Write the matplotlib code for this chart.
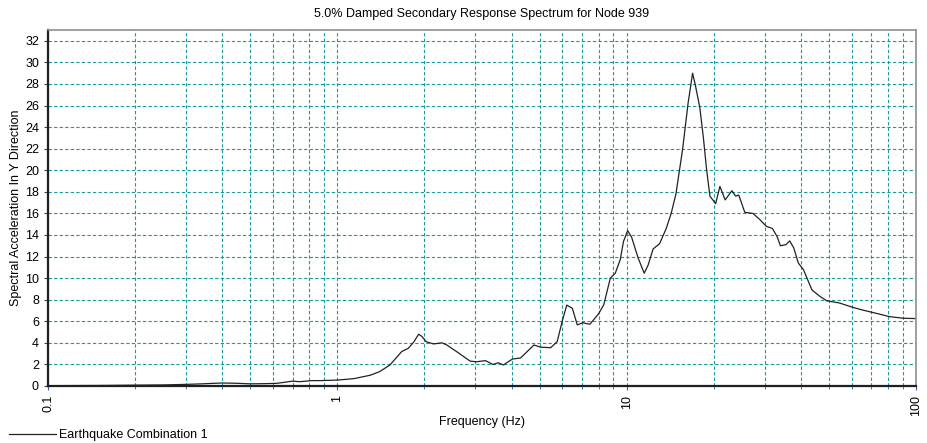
import matplotlib.pyplot as plt
from matplotlib.ticker import NullFormatter, LogLocator
import numpy as np

plt.rcParams['font.family'] = ['Liberation Sans', 'DejaVu Sans']

TITLE = "5.0% Damped Secondary Response Spectrum for Node 939"
SERIES = "Earthquake Combination 1"

freq = [0.1, 0.15, 0.2, 0.25, 0.3, 0.34, 0.4, 0.45, 0.5, 0.57, 0.62, 0.67, 0.70,
        0.74, 0.82, 0.873, 1.0, 1.14, 1.30, 1.40, 1.52, 1.67, 1.76, 1.84, 1.91,
        1.96, 2.03, 2.15, 2.30, 2.39, 2.58, 2.88, 3.03, 3.25, 3.45, 3.6, 3.75,
        4.03, 4.30, 4.78, 5.04, 5.46, 5.75, 6.0, 6.21, 6.49, 6.75, 7.05, 7.46,
        7.99, 8.33, 8.78, 9.13, 9.5, 9.75, 10.08, 10.4, 10.96, 11.5, 11.86,
        12.34, 13.0, 13.7, 14.25, 14.8, 15.6, 16.3, 16.9, 17.3, 17.9, 18.4,
        18.9, 19.4, 20.3, 21.0, 21.9, 23.1, 23.8, 24.4, 25.6, 27.3, 28.8, 30.4,
        31.9, 33.1, 34.0, 35.5, 36.6, 37.8, 39.2, 40.8, 43.7, 46.6, 49.1, 54.3,
        59.5, 64.1, 73.8, 81, 90.5, 100]
accel = [0.03, 0.05, 0.08, 0.1, 0.15, 0.2, 0.28, 0.25, 0.2, 0.22, 0.25, 0.38, 0.45,
         0.4, 0.5, 0.5, 0.55, 0.68, 1.0, 1.33, 1.95, 3.2, 3.5, 4.1, 4.8,
         4.6, 4.1, 3.9, 4.0, 3.8, 3.2, 2.3, 2.25, 2.35, 2.0, 2.15, 1.95,
         2.5, 2.6, 3.8, 3.6, 3.55, 4.1, 6.1, 7.5, 7.2, 5.66, 5.87, 5.72,
         6.68, 7.51, 10.0, 10.45, 11.7, 13.4, 14.4, 13.8, 11.85, 10.45, 11.2,
         12.7, 13.2, 14.6, 16.0, 17.8, 21.9, 26.2, 29.0, 27.8, 25.8, 23.1,
         20.0, 17.6, 16.9, 18.5, 17.25, 18.1, 17.6, 17.7, 16.1, 16.0, 15.45, 14.8,
         14.6, 13.85, 13.0, 13.1, 13.45, 12.8, 11.4, 10.8, 8.9, 8.3, 7.9, 7.7,
         7.35, 7.1, 6.7, 6.43, 6.28, 6.25]

x_ticks = [0.1, 1, 10, 100]
x_tick_labels = ["0.1", "1", "10", "100"]
y_ticks = list(range(0, 33, 2))

GRID = "#1a9a9a"

fig = plt.figure(figsize=(9.28, 4.43), dpi=100)
ax = fig.add_axes([48 / 928, 1 - 386 / 443, (916 - 48) / 928, (386 - 30) / 443])

line, = ax.plot(freq, accel, color="#222222", lw=0.9, label=SERIES)

ax.set_xscale("log")
ax.set_xlim(0.1, 100)
ax.set_ylim(0, 33)
ax.set_xticks(x_ticks)
ax.set_xticklabels(x_tick_labels, rotation=90)
ax.xaxis.set_minor_locator(LogLocator(base=10, subs=np.arange(2, 10)))
ax.xaxis.set_minor_formatter(NullFormatter())
ax.set_yticks(y_ticks)
ax.tick_params(axis="both", labelsize=9, length=3, color="#3060c0", width=0.8)
ax.tick_params(axis="x", which="minor", length=2, color="#3060c0")
ax.tick_params(axis="y", length=3, color="#404040")

ax.grid(True, which="major", axis="both", color=GRID, linestyle=(0, (3, 2)), lw=0.8)
ax.grid(True, which="minor", axis="x", color=GRID, linestyle=(0, (3, 2)), lw=0.8)

for side in ["left", "bottom"]:
    ax.spines[side].set_color("#202020")
    ax.spines[side].set_linewidth(1.6)
for side in ["top", "right"]:
    ax.spines[side].set_color("#909090")
    ax.spines[side].set_linewidth(1.2)

ax.set_title(TITLE, fontsize=9, pad=9)
ax.set_xlabel("Frequency (Hz)", fontsize=9, labelpad=0)
ax.set_ylabel("Spectral Acceleration In Y Direction", fontsize=9)
ax.yaxis.set_label_coords(-0.030, 0.5)

fig.legend(handles=[line], loc="lower left", bbox_to_anchor=(0.0, -0.016),
           frameon=False, fontsize=9, handlelength=3.8, handletextpad=0.2,
           borderaxespad=0.3)

fig.savefig("out.png", dpi=100)
